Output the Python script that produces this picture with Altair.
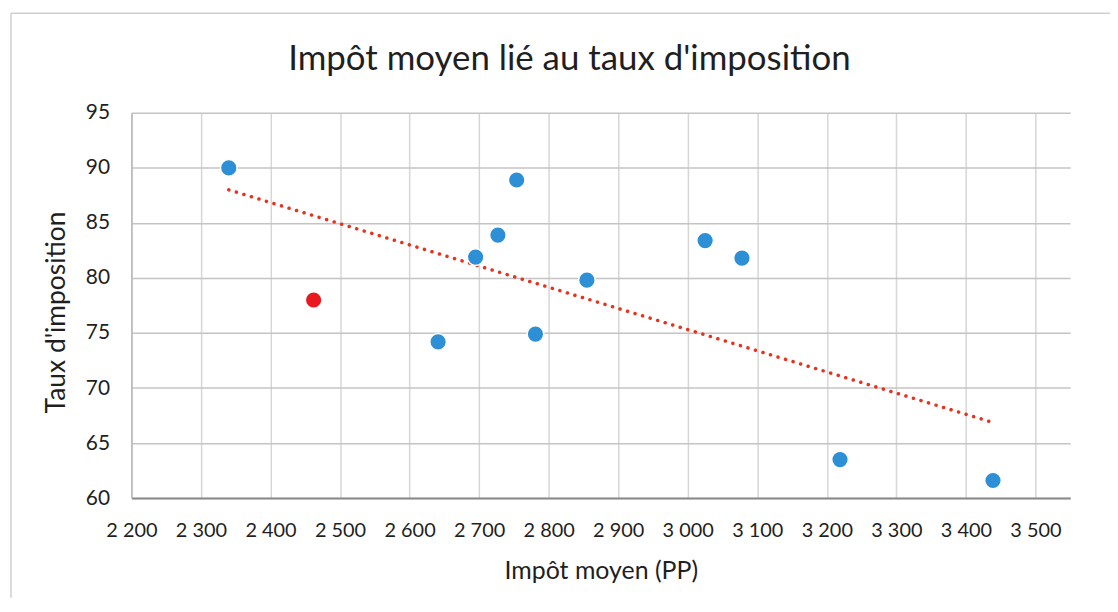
import altair as alt
import pandas as pd

# Data
impot_moyen = [2340, 2462, 2754, 2727, 2695, 2855, 3025, 3078, 2781, 2641, 3219, 3439]
taux_imposition = [90.0, 78.0, 88.9, 83.9, 81.9, 79.8, 83.4, 81.8, 74.9, 74.2, 63.5, 61.6]
serie = ["bleu", "rouge", "bleu", "bleu", "bleu", "bleu", "bleu", "bleu", "bleu", "bleu", "bleu", "bleu"]

x_ticks = [2200, 2300, 2400, 2500, 2600, 2700, 2800, 2900, 3000, 3100, 3200, 3300, 3400, 3500]
y_ticks = [60, 65, 70, 75, 80, 85, 90, 95]
titre = ["Impôt moyen lié au taux d'imposition"]

df = pd.DataFrame({"x": impot_moyen, "y": taux_imposition, "serie": serie})

FONT = "Lato"
TXT = "#1f1f1f"

x_enc = alt.X(
    "x:Q",
    scale=alt.Scale(domain=[2200, 3550], nice=False, zero=False),
    axis=alt.Axis(
        values=x_ticks,
        title="Impôt moyen (PP)",
        labelExpr="replace(format(datum.value, ','), ',', ' ')",
        labelFontSize=20,
        labelPadding=23,
        labelOverlap=False,
        labelFlush=False,
        titleFontSize=25,
        titlePadding=18,
        titleFontWeight="normal",
        ticks=False,
        grid=True,
        gridColor="#d6d6d6",
        gridWidth=1.5,
        domainColor="#8a8a8a",
        domainWidth=2,
    ),
)
y_enc = alt.Y(
    "y:Q",
    scale=alt.Scale(domain=[60, 95], nice=False, zero=False),
    axis=alt.Axis(
        values=y_ticks,
        title="Taux d'imposition",
        labelFontSize=21,
        labelPadding=22,
        labelFlush=False,
        titleFontSize=26.5,
        titleFontWeight="normal",
        titleX=-67,
        titleY=200,
        titleBaseline="alphabetic",
        ticks=False,
        grid=True,
        gridColor="#c4c4c4",
        gridWidth=1.5,
        domainColor="#b8b8b8",
        domainWidth=1.5,
    ),
)

points = alt.Chart(df).mark_circle(opacity=1, stroke="white", strokeWidth=1.5, size=280).encode(
    x=x_enc,
    y=y_enc,
    color=alt.Color(
        "serie:N",
        scale=alt.Scale(domain=["bleu", "rouge"], range=["#2d8fd5", "#e8191f"]),
        legend=None,
    ),
)

trend = alt.Chart(df).transform_regression("x", "y").mark_line(
    color="#e8321e", strokeWidth=3.5, strokeDash=[0.1, 7.8], strokeCap="round"
).encode(x="x:Q", y="y:Q")

frame = pd.DataFrame({"a": [0]})
border_top = alt.Chart(frame).mark_rule(color="#cfcfcf", strokeWidth=1.5).encode(
    x=alt.value(-121), x2=alt.value(983), y=alt.value(-100)
)
border_left = alt.Chart(frame).mark_rule(color="#cfcfcf", strokeWidth=1.5).encode(
    x=alt.value(-121), y=alt.value(-100), y2=alt.value(487)
)

title_df = pd.DataFrame({"t": titre})
title_mark = alt.Chart(title_df).mark_text(
    font=FONT, fontSize=35, color=TXT, align="center", baseline="alphabetic"
).encode(text="t:N", x=alt.value(440), y=alt.value(-43))

chart = (
    alt.layer(border_top, border_left, trend, points, title_mark)
    .properties(
        width=943,
        height=387,
        autosize=alt.AutoSizeParams(type="none"),
        padding={"left": 124, "top": 104, "right": 40, "bottom": 100},
    )
    .configure(font=FONT)
    .configure_axis(labelColor=TXT, titleColor=TXT, labelFont=FONT, titleFont=FONT)
    .configure_view(stroke=None)
)

chart.save("out.html", embed_options={"renderer": "svg", "actions": False})
